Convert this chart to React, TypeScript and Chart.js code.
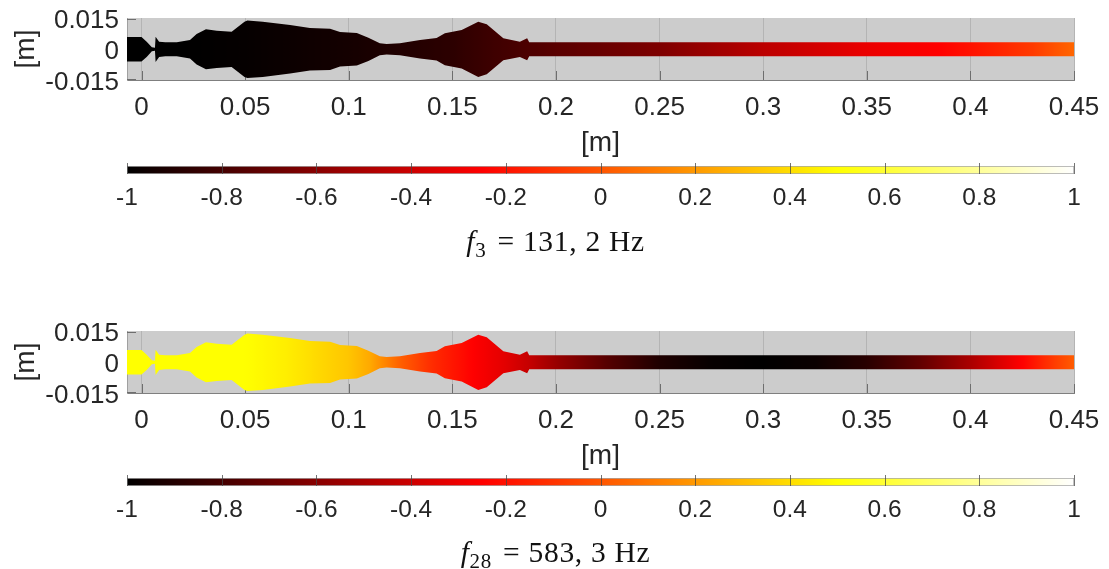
import React, { useEffect, useRef } from "react";
import { Chart, registerables } from "chart.js";

Chart.register(...registerables);

const ductX = [-0.007, 0, 0.0025, 0.005, 0.0065, 0.0068, 0.0085, 0.0115, 0.017, 0.0234, 0.0266, 0.0311, 0.0363, 0.0435, 0.0497, 0.0511, 0.0585, 0.0717, 0.0813, 0.091, 0.0958, 0.1039, 0.1095, 0.115, 0.1183, 0.1247, 0.1344, 0.1424, 0.1464, 0.1545, 0.1625, 0.1666, 0.1746, 0.1826, 0.1861, 0.1871, 0.45];
const ductRadius = [0.00615, 0.00615, 0.0038, 0.001, 0.00075, 0.0063, 0.0038, 0.0035, 0.0035, 0.00465, 0.00765, 0.01, 0.0093, 0.0088, 0.0138, 0.0144, 0.0138, 0.01215, 0.01065, 0.0103, 0.00865, 0.00815, 0.0058, 0.003, 0.00265, 0.003, 0.00465, 0.00565, 0.008, 0.00965, 0.0138, 0.0125, 0.0055, 0.0038, 0.0055, 0.0035, 0.0035];

const fieldX3 = [-0.007, 0.02, 0.05, 0.1, 0.15, 0.2, 0.25, 0.3, 0.35, 0.385, 0.4, 0.43, 0.45];
const fieldV3 = [-1, -1, -0.985, -0.94, -0.87, -0.74, -0.63, -0.45, -0.31, -0.25, -0.2, -0.08, 0.05];
const fieldX28 = [-0.007, 0.05, 0.07, 0.09, 0.1, 0.11, 0.125, 0.14, 0.16, 0.175, 0.187, 0.2, 0.225, 0.25, 0.275, 0.3, 0.325, 0.35, 0.375, 0.4, 0.425, 0.44, 0.45];
const fieldV28 = [0.5, 0.5, 0.45, 0.37, 0.33, 0.25, 0.03, -0.12, -0.25, -0.33, -0.42, -0.55, -0.75, -0.91, -0.98, -1, -0.97, -0.88, -0.72, -0.5, -0.25, -0.08, 0.02];

const xTicks = [0, 0.05, 0.1, 0.15, 0.2, 0.25, 0.3, 0.35, 0.4, 0.45];
const yTicks = [-0.015, 0, 0.015];
const cbTicks = [-1, -0.8, -0.6, -0.4, -0.2, 0, 0.2, 0.4, 0.6, 0.8, 1];

const hotPos = [-1, -0.25, 0.5, 1];
const hotR = [0, 255, 255, 255];
const hotG = [0, 0, 255, 255];
const hotB = [0, 0, 0, 255];

const LABEL = "#262626";
const FONT = "'Liberation Sans', Arial, sans-serif";
const SERIF = "'Liberation Serif', serif";
const yLabelNudge = [4, 3, 2];

function lerpTable(v: number, xs: number[], ys: number[]) {
  if (v <= xs[0]) return ys[0];
  for (let i = 1; i < xs.length; i++) {
    if (v <= xs[i]) return ys[i - 1] + ((v - xs[i - 1]) / (xs[i] - xs[i - 1])) * (ys[i] - ys[i - 1]);
  }
  return ys[ys.length - 1];
}
function hot(v: number) {
  const r = lerpTable(v, hotPos, hotR);
  const g = lerpTable(v, hotPos, hotG);
  const b = lerpTable(v, hotPos, hotB);
  return `rgb(${Math.round(r)},${Math.round(g)},${Math.round(b)})`;
}

function fieldGradient(chart: any, fx: number[], fv: number[]) {
  const s = chart.scales.x;
  if (!s || !chart.chartArea) return "#000";
  const g = chart.ctx.createLinearGradient(s.left, 0, s.right, 0);
  const n = 300;
  for (let i = 0; i <= n; i++) {
    const x = s.min + ((s.max - s.min) * i) / n;
    g.addColorStop(i / n, hot(lerpTable(x, fx, fv)));
  }
  return g;
}

const ductTicks = {
  id: "ductTicks",
  beforeDatasetsDraw(chart: any) {
    const { ctx, chartArea: a, scales } = chart;
    ctx.save();
    ctx.strokeStyle = "#6e6e6e";
    ctx.lineWidth = 1;
    ctx.beginPath();
    xTicks.forEach((v) => {
      const p = Math.round(scales.x.getPixelForValue(v)) + 0.5;
      ctx.moveTo(p, a.bottom);
      ctx.lineTo(p, a.bottom - 9);
    });
    yTicks.forEach((v) => {
      const p = Math.round(scales.y.getPixelForValue(v)) + 0.5;
      ctx.moveTo(a.left, p);
      ctx.lineTo(a.left + 9, p);
    });
    ctx.stroke();
    ctx.restore();
  },
};

function DuctChart({ top, fx, fv }: { top: number; fx: number[]; fv: number[] }) {
  const ref = useRef<HTMLCanvasElement>(null);
  useEffect(() => {
    const H = 160;
    const chart = new Chart(ref.current!, {
      type: "line",
      data: {
        datasets: [
          {
            data: ductX.map((x, i) => ({ x, y: ductRadius[i] })),
            pointRadius: 0,
            borderWidth: 0,
            tension: 0,
            fill: "+1",
            backgroundColor: (c: any) => fieldGradient(c.chart, fx, fv),
          },
          {
            data: ductX.map((x, i) => ({ x, y: -ductRadius[i] })),
            pointRadius: 0,
            borderWidth: 0,
            tension: 0,
            fill: false,
          },
        ],
      },
      options: {
        animation: false,
        responsive: false,
        events: [],
        layout: { padding: { top: 18, right: 35, left: 0, bottom: 0 } },
        plugins: { legend: { display: false }, tooltip: { enabled: false }, title: { display: false } },
        scales: {
          x: {
            type: "linear",
            min: -0.007,
            max: 0.45,
            afterFit: (s: any) => { s.height = H - 80; s.paddingLeft = 0; s.paddingRight = 0; },
            afterBuildTicks: (s: any) => { s.ticks = xTicks.map((value) => ({ value })); },
            grid: { color: "#b4b4b4", lineWidth: 1, drawTicks: false },
            border: { color: "#7f7f7f", width: 1 },
            ticks: { autoSkip: false, maxRotation: 0, padding: 12, color: LABEL, font: { family: FONT, size: 26 }, callback: (v: any) => String(v) },
            title: { display: true, text: "[m]", color: LABEL, font: { family: FONT, size: 28 }, padding: { top: 0, bottom: 0 } },
          },
          y: {
            type: "linear",
            min: -0.01535,
            max: 0.01565,
            afterFit: (s: any) => { s.width = 127; s.paddingTop = 0; s.paddingBottom = 0; },
            afterBuildTicks: (s: any) => { s.ticks = yTicks.map((value) => ({ value })); },
            grid: { display: false, drawTicks: false },
            border: { color: "#a0a0a0", width: 1 },
            ticks: { autoSkip: false, padding: 8, color: LABEL, font: { family: FONT, size: 26 }, callback: (v: any) => String(v) },
            title: { display: true, text: "[m]", color: LABEL, font: { family: FONT, size: 28 }, padding: { top: 9, bottom: 0 } },
          },
        },
      },
      plugins: [
        {
          id: "plotBg",
          beforeDraw(c: any) {
            const { ctx, chartArea: a, scales } = c;
            ctx.save();
            ctx.fillStyle = "#cccccc";
            ctx.fillRect(a.left, a.top, a.width, a.height);
            ctx.restore();
            scales.y.getLabelItems(a).forEach((item: any, i: number) => {
              item.options.translation = [item.options.translation[0], item.options.translation[1] + yLabelNudge[i]];
            });
          },
        },
        ductTicks,
      ],
    } as any);
    return () => chart.destroy();
  }, []);
  return <canvas ref={ref} width={1109} height={160} style={{ position: "absolute", left: 0, top, display: "block" }} />;
}

function ColorbarChart({ top, sym, sub, rest, titleY }: { top: number; sym: string; sub: string; rest: string; titleY: number }) {
  const ref = useRef<HTMLCanvasElement>(null);
  useEffect(() => {
    const H = 110;
    const chart = new Chart(ref.current!, {
      type: "bar",
      data: {
        labels: [""],
        datasets: [
          {
            data: [[-1, 1]],
            barPercentage: 1,
            categoryPercentage: 1,
            borderWidth: 1,
            borderSkipped: false,
            borderColor: "#a6a6a6",
            backgroundColor: (c: any) => {
              const s = c.chart.scales.x;
              if (!s || !c.chart.chartArea) return "#000";
              const g = c.chart.ctx.createLinearGradient(s.left, 0, s.right, 0);
              hotPos.forEach((p) => g.addColorStop((p + 1) / 2, hot(p)));
              return g;
            },
          },
        ],
      },
      options: {
        indexAxis: "y",
        animation: false,
        responsive: false,
        events: [],
        layout: { padding: { top: 11, right: 35, left: 127, bottom: 0 } },
        plugins: { legend: { display: false }, tooltip: { enabled: false }, title: { display: false } },
        scales: {
          x: {
            type: "linear",
            min: -1,
            max: 1,
            afterFit: (s: any) => { s.height = H - 19; s.paddingLeft = 0; s.paddingRight = 0; },
            afterBuildTicks: (s: any) => { s.ticks = cbTicks.map((value) => ({ value })); },
            grid: { display: false, drawTicks: false },
            border: { display: false },
            ticks: { autoSkip: false, maxRotation: 0, padding: 10, color: LABEL, font: { family: FONT, size: 24.5 }, callback: (v: any) => String(v) },
          },
          y: { type: "category", display: false },
        },
      },
      plugins: [
        {
          id: "cbOverlay",
          afterDatasetsDraw(c: any) {
            const { ctx, chartArea: a, scales } = c;
            ctx.save();
            ctx.strokeStyle = "rgba(70,70,70,0.75)";
            ctx.lineWidth = 1;
            ctx.beginPath();
            cbTicks.forEach((v) => {
              const p = Math.round(scales.x.getPixelForValue(v)) + 0.5;
              ctx.moveTo(p, a.top - 3);
              ctx.lineTo(p, a.bottom);
            });
            ctx.stroke();

            const base = titleY - top + 9;
            const main = `29.5px ${SERIF}`;
            const ital = `italic 29.5px ${SERIF}`;
            const small = `21px ${SERIF}`;
            ctx.fillStyle = "#111111";
            ctx.textBaseline = "alphabetic";
            ctx.textAlign = "left";
            (ctx as any).letterSpacing = "0.7px";
            ctx.font = ital; const w1 = ctx.measureText(sym).width;
            ctx.font = small; const w2 = ctx.measureText(sub).width;
            ctx.font = main; const w3 = ctx.measureText(rest).width;
            const gap = 3;
            let x = 555.5 - (w1 + w2 + gap + w3) / 2;
            ctx.font = ital; ctx.fillText(sym, x, base); x += w1;
            ctx.font = small; ctx.fillText(sub, x, base + 6); x += w2 + gap;
            ctx.font = main; ctx.fillText(rest, x, base);
            ctx.restore();
          },
        },
      ],
    } as any);
    return () => chart.destroy();
  }, []);
  return <canvas ref={ref} width={1109} height={110} style={{ position: "absolute", left: 0, top, display: "block" }} />;
}

export default function App() {
  return (
    <div style={{ position: "absolute", left: 0, top: 0, width: 1109, height: 569, background: "#fff", overflow: "hidden" }}>
      <DuctChart top={0} fx={fieldX3} fv={fieldV3} />
      <ColorbarChart top={155} sym="f" sub="3" rest=" = 131, 2 Hz" titleY={242} />
      <DuctChart top={313} fx={fieldX28} fv={fieldV28} />
      <ColorbarChart top={467} sym="f" sub="28" rest=" = 583, 3 Hz" titleY={553} />
    </div>
  );
}
